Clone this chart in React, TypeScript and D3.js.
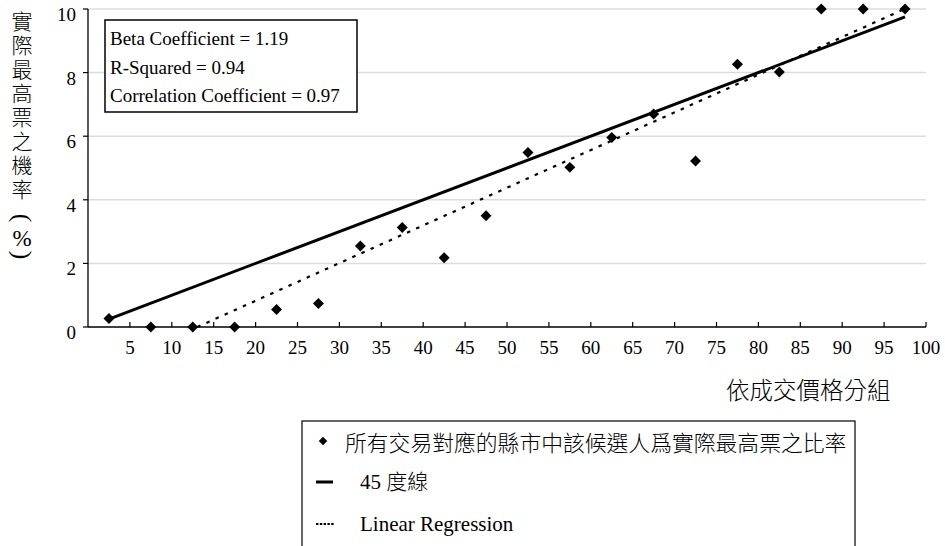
import React from "react";
import * as d3 from "d3";

// Price groups (midpoints of each 5-point bucket) and share of top-vote outcomes
const groupMids = [2.5, 7.5, 12.5, 17.5, 22.5, 27.5, 32.5, 37.5, 42.5, 47.5, 52.5, 57.5, 62.5, 67.5, 72.5, 77.5, 82.5, 87.5, 92.5, 97.5];
const topShare = [0.27, 0, 0, 0, 0.55, 0.74, 2.55, 3.13, 2.18, 3.5, 5.49, 5.02, 5.96, 6.7, 5.22, 8.26, 8.02, 10, 10, 10];

const xTicks = [5, 10, 15, 20, 25, 30, 35, 40, 45, 50, 55, 60, 65, 70, 75, 80, 85, 90, 95, 100];
const yTicks = [0, 2, 4, 6, 8, 10];

const statLines = ["Beta Coefficient = 1.19", "R-Squared = 0.94", "Correlation Coefficient = 0.97"];
const yTitle = "實際最高票之機率";
const yTitleUnit = "%";
const xTitle = "依成交價格分組";
const legendLabels = ["所有交易對應的縣市中該候選人爲實際最高票之比率", "45 度線", "Linear Regression"];

const W = 945;
const H = 546;
const FONT = "'Liberation Serif', 'Noto Sans CJK TC', serif";
const CJK = "'Noto Sans CJK TC', 'Liberation Serif', sans-serif";

export default function App() {
  const x = d3.scaleLinear().domain([0, 100]).range([88, 926]);
  const y = d3.scaleLinear().domain([0, 10]).range([327, 9]);

  const pts = groupMids.map((g, i) => ({ g, v: topShare[i] }));

  // Least-squares fit of share on price group
  const mx = d3.mean(groupMids) as number;
  const my = d3.mean(topShare) as number;
  const sxy = d3.sum(pts, (p) => (p.g - mx) * (p.v - my));
  const sxx = d3.sum(pts, (p) => (p.g - mx) * (p.g - mx));
  const slope = sxy / sxx;
  const intercept = my - slope * mx;
  const xStart = Math.max(groupMids[0], -intercept / slope);
  const xEnd = groupMids[groupMids.length - 1];
  const regPts: [number, number][] = [
    [xStart, slope * xStart + intercept],
    [xEnd, slope * xEnd + intercept],
  ];

  // Equality line (share = group / 10)
  const diagPts: [number, number][] = [
    [groupMids[0], groupMids[0] / 10],
    [xEnd, xEnd / 10],
  ];

  const line = d3
    .line<[number, number]>()
    .x((d) => x(d[0]))
    .y((d) => y(d[1]));

  const diamond = d3.symbol().type(d3.symbolSquare).size(60)() as string;
  const smallDiamond = d3.symbol().type(d3.symbolSquare).size(36)() as string;

  const [x0, x1] = x.range();

  return (
    <svg
      width={W}
      height={H}
      viewBox={`0 0 ${W} ${H}`}
      style={{ position: "absolute", left: 0, top: 0, background: "#fff" }}
    >
      <rect x={0} y={0} width={W} height={H} fill="#fff" />

      {/* horizontal grid */}
      {yTicks
        .filter((t) => t > 0)
        .map((t) => (
          <line key={`g${t}`} x1={x0} x2={x1} y1={y(t)} y2={y(t)} stroke="#dcdcdc" strokeWidth={1.5} />
        ))}

      {/* y axis */}
      <line x1={x0} x2={x0} y1={y(10)} y2={y(0)} stroke="#000" strokeWidth={1.3} />
      {yTicks.map((t) => (
        <g key={`y${t}`}>
          <line x1={x0 - 5} x2={x0} y1={y(t)} y2={y(t)} stroke="#000" strokeWidth={1.2} />
          <text x={76} y={y(t) + 12} textAnchor="end" fontFamily={FONT} fontSize={19} fill="#000">
            {t}
          </text>
        </g>
      ))}

      {/* x axis */}
      <line x1={x0} x2={x1} y1={y(0)} y2={y(0)} stroke="#000" strokeWidth={1.3} />
      {xTicks.map((t) => (
        <g key={`x${t}`}>
          <line x1={x(t)} x2={x(t)} y1={y(0)} y2={y(0) - 5} stroke="#000" strokeWidth={1.2} />
          <text x={x(t)} y={354} textAnchor="middle" fontFamily={FONT} fontSize={19} fill="#000">
            {t}
          </text>
        </g>
      ))}

      {/* fitted lines */}
      <path d={line(diagPts) as string} fill="none" stroke="#000" strokeWidth={3} />
      <path
        d={line(regPts) as string}
        fill="none"
        stroke="#000"
        strokeWidth={2.2}
        strokeDasharray="3.5 6.5"
      />

      {/* observations */}
      {pts.map((p, i) => (
        <path
          key={`p${i}`}
          d={diamond}
          transform={`translate(${x(p.g)},${y(p.v)}) rotate(45)`}
          fill="#000"
        />
      ))}

      {/* statistics box */}
      <rect x={105} y={20} width={252} height={92} fill="#fff" stroke="#000" strokeWidth={1.5} />
      {statLines.map((s, i) => (
        <text key={s} x={110} y={45 + i * 28.5} fontFamily={FONT} fontSize={19} fill="#000">
          {s}
        </text>
      ))}

      {/* y title, set vertically */}
      <text
        x={22}
        y={11}
        fontFamily={CJK}
        fontWeight={300}
        fontSize={21}
        letterSpacing={3}
        fill="#000"
        style={{ writingMode: "vertical-rl", textOrientation: "upright" } as React.CSSProperties}
      >
        {yTitle}
      </text>
      <text
        transform="translate(22,218) rotate(90)"
        textAnchor="middle"
        dominantBaseline="central"
        fontFamily={FONT}
        fontSize={26}
        fill="#000"
      >
        (
      </text>
      <text x={22} y={238} textAnchor="middle" dominantBaseline="central" fontFamily={FONT} fontSize={23} fill="#000">
        {yTitleUnit}
      </text>
      <text
        transform="translate(22,255) rotate(90)"
        textAnchor="middle"
        dominantBaseline="central"
        fontFamily={FONT}
        fontSize={26}
        fill="#000"
      >
        )
      </text>

      {/* x title */}
      <text x={726} y={389} dominantBaseline="central" fontFamily={CJK} fontWeight={300} fontSize={23.5} fill="#000">
        {xTitle}
      </text>

      {/* legend */}
      <rect x={302} y={421} width={553} height={140} fill="#fff" stroke="#000" strokeWidth={1.2} />
      <path d={smallDiamond} transform={`translate(323,441) rotate(45)`} fill="#000" />
      <text x={345} y={441} dominantBaseline="central" fontFamily={CJK} fontWeight={300} fontSize={21.8} fill="#000">
        {legendLabels[0]}
      </text>
      <line x1={316} x2={333} y1={482} y2={482} stroke="#000" strokeWidth={3} />
      <text x={360} y={482} dominantBaseline="central" fontFamily={FONT} fontWeight={300} fontSize={21} fill="#000">
        {legendLabels[1]}
      </text>
      <line x1={316} x2={334} y1={524} y2={524} stroke="#000" strokeWidth={2.2} strokeDasharray="2.4 1.4" />
      <text x={360} y={524} dominantBaseline="central" fontFamily={FONT} fontSize={21} fill="#000">
        {legendLabels[2]}
      </text>
    </svg>
  );
}
